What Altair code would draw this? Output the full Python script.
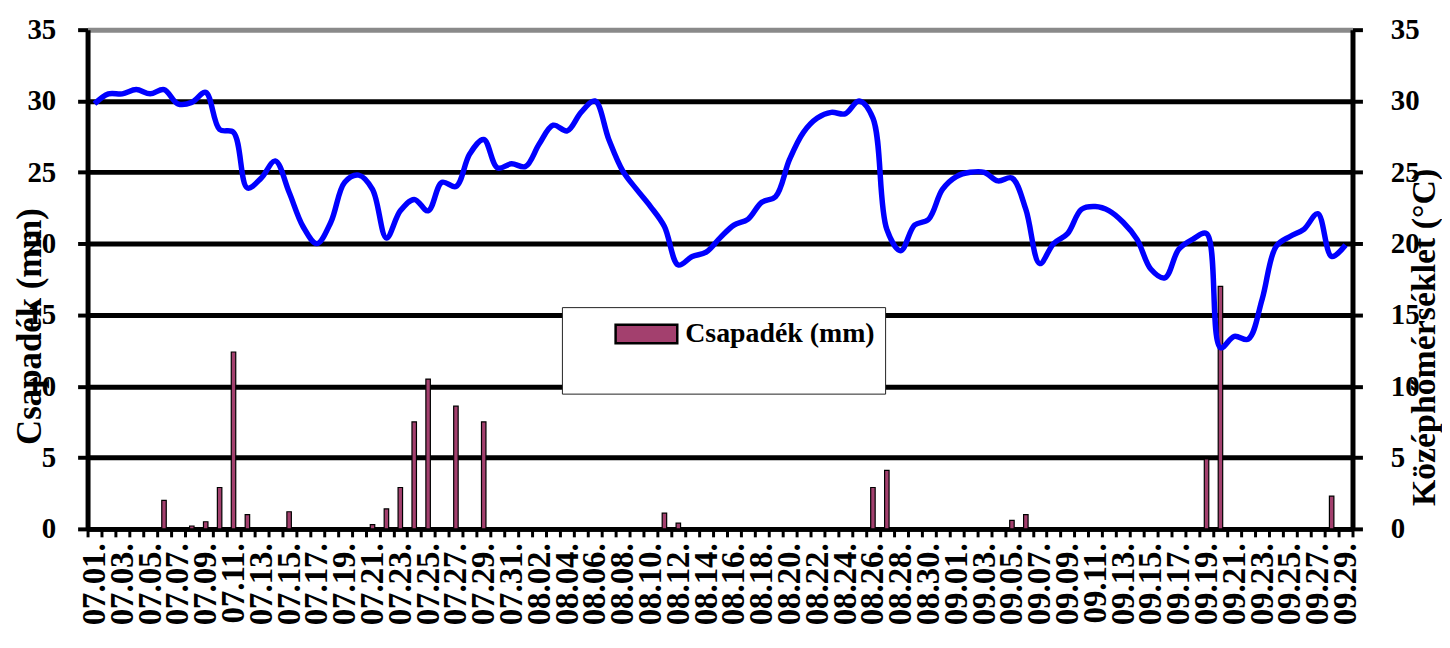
import altair as alt
import pandas as pd

FONT = "Liberation Serif"

dates = [
    "07.01.", "07.02.", "07.03.", "07.04.", "07.05.", "07.06.", "07.07.", "07.08.", "07.09.", "07.10.",
    "07.11.", "07.12.", "07.13.", "07.14.", "07.15.", "07.16.", "07.17.", "07.18.", "07.19.", "07.20.",
    "07.21.", "07.22.", "07.23.", "07.24.", "07.25.", "07.26.", "07.27.", "07.28.", "07.29.", "07.30.",
    "07.31.",
    "08.01.", "08.02.", "08.03.", "08.04.", "08.05.", "08.06.", "08.07.", "08.08.", "08.09.", "08.10.",
    "08.11.", "08.12.", "08.13.", "08.14.", "08.15.", "08.16.", "08.17.", "08.18.", "08.19.", "08.20.",
    "08.21.", "08.22.", "08.23.", "08.24.", "08.25.", "08.26.", "08.27.", "08.28.", "08.29.", "08.30.",
    "08.31.",
    "09.01.", "09.02.", "09.03.", "09.04.", "09.05.", "09.06.", "09.07.", "09.08.", "09.09.", "09.10.",
    "09.11.", "09.12.", "09.13.", "09.14.", "09.15.", "09.16.", "09.17.", "09.18.", "09.19.", "09.20.",
    "09.21.", "09.22.", "09.23.", "09.24.", "09.25.", "09.26.", "09.27.", "09.28.", "09.29.",
]

shown_labels = [
    "07.01.", "07.03.", "07.05.", "07.07.", "07.09.", "07.11.", "07.13.", "07.15.", "07.17.", "07.19.",
    "07.21.", "07.23.", "07.25.", "07.27.", "07.29.", "07.31.", "08.02.", "08.04.", "08.06.", "08.08.",
    "08.10.", "08.12.", "08.14.", "08.16.", "08.18.", "08.20.", "08.22.", "08.24.", "08.26.", "08.28.",
    "08.30.", "09.01.", "09.03.", "09.05.", "09.07.", "09.09.", "09.11.", "09.13.", "09.15.", "09.17.",
    "09.19.", "09.21.", "09.23.", "09.25.", "09.27.", "09.29.",
]

# Középhőmérséklet (°C), daily
temperature = [
    29.8, 30.5, 30.5, 30.8, 30.5, 30.8, 29.8, 29.9, 30.6, 28.0,
    27.8, 23.9, 24.6, 25.8, 23.6, 21.2, 20.0, 21.5, 24.3, 24.8,
    23.8, 20.4, 22.3, 23.1, 22.3, 24.3, 24.0, 26.3, 27.3, 25.3,
    25.6,
    25.4, 27.0, 28.3, 27.9, 29.2, 30.0, 27.3, 25.1, 23.8, 22.6,
    21.2, 18.5, 19.1, 19.4, 20.4, 21.3, 21.7, 22.9, 23.3, 25.9,
    27.8, 28.8, 29.2, 29.1, 30.0, 28.8, 21.0, 19.5, 21.3, 21.7,
    23.8,
    24.7, 25.0, 25.0, 24.4, 24.6, 22.4, 18.6, 20.0, 20.7, 22.4,
    22.6, 22.3, 21.5, 20.3, 18.2, 17.6, 19.6, 20.3, 20.7, 12.7,
    13.5, 13.3, 16.1, 19.8, 20.5, 21.0, 22.1, 19.1, 19.9,
]

# Csapadék (mm), daily
precipitation = [
    0, 0, 0, 0, 0, 2.0, 0, 0.2, 0.5, 2.9,
    12.4, 1.0, 0, 0, 1.2, 0, 0, 0, 0, 0,
    0.3, 1.4, 2.9, 7.5, 10.5, 0, 8.6, 0, 7.5, 0,
    0,
    0, 0, 0, 0, 0, 0, 0, 0, 0, 0,
    1.1, 0.4, 0, 0, 0, 0, 0, 0, 0, 0,
    0, 0, 0, 0, 0, 2.9, 4.1, 0, 0, 0,
    0,
    0, 0, 0, 0, 0.6, 1.0, 0, 0, 0, 0,
    0, 0, 0, 0, 0, 0, 0, 0, 4.9, 17.0,
    0, 0, 0, 0, 0, 0, 0, 2.3, 0,
]

y_ticks = [0, 5, 10, 15, 20, 25, 30, 35]
series_name = "Csapadék (mm)"
# wide flat swatch; drawn twice as wide as the layout slot
SWATCH = "M-2,-0.6H2V0.6H-2Z"

df = pd.DataFrame({
    "date": dates,
    "precip": precipitation,
    "temp": temperature,
    "series": [series_name] * len(dates),
})

label_expr = "indexof(" + str(shown_labels).replace("'", '"') + ", datum.value) >= 0 ? datum.value : ''"

x_enc = alt.X(
    "date:N",
    sort=dates,
    scale=alt.Scale(paddingInner=0, paddingOuter=0),
    axis=alt.Axis(
        title=None,
        labelExpr=label_expr,
        labelAngle=270,
        labelFont=FONT,
        labelFontSize=33,
        labelFontWeight="bold",
        labelColor="black",
        labelPadding=6,
        labelOverlap=False,
        tickBand="extent",
        tickSize=8,
        tickWidth=3,
        tickColor="black",
        domainColor="black",
        domainWidth=5,
        grid=False,
    ),
)

bars = alt.Chart(df).mark_bar(width=4.5, stroke="black", strokeWidth=1.2).encode(
    x=x_enc,
    y=alt.Y(
        "precip:Q",
        scale=alt.Scale(domain=[0, 35], nice=False),
        axis=alt.Axis(
            values=y_ticks,
            title="Csapadék (mm)",
            titleFont=FONT,
            titleFontSize=35,
            titleFontWeight="bold",
            titleColor="black",
            titleAngle=270,
            titleX=-58,
            titleY=298,
            titleBaseline="middle",
            titleAlign="center",
            labelFont=FONT,
            labelFontSize=29,
            labelFontWeight="bold",
            labelColor="black",
            labelPadding=22,
            tickSize=10,
            tickWidth=4,
            tickColor="black",
            domainColor="black",
            domainWidth=5,
            grid=True,
            gridColor={"condition": {"test": "datum.value == 35", "value": "#8a8a8a"}, "value": "black"},
            gridWidth=5,
        ),
    ),
    color=alt.Color(
        "series:N",
        scale=alt.Scale(domain=[series_name], range=["#A3406E"]),
        legend=alt.Legend(
            title="\u00a0",
            titleOrient="bottom",
            titleFontSize=28,
            titlePadding=8,
            orient="none",
            legendX=477,
            legendY=279,
            padding=10,
            fillColor="white",
            strokeColor="#222222",
            labelFont=FONT,
            labelFontSize=28,
            labelFontWeight="bold",
            labelColor="black",
            labelOffset=22,
            labelLimit=500,
            symbolType=SWATCH,
            symbolSize=961,
            symbolOffset=58,
            symbolStrokeColor="black",
            symbolStrokeWidth=2.5,
            symbolOpacity=1,
        ),
    ),
)

line = alt.Chart(df).mark_line(color="#0000FF", strokeWidth=5.5, interpolate="catmull-rom").encode(
    x=alt.X("date:N", sort=dates),
    y=alt.Y(
        "temp:Q",
        scale=alt.Scale(domain=[0, 35], nice=False),
        axis=alt.Axis(
            orient="right",
            values=y_ticks,
            title="Középhőmérséklet (°C)",
            titleFont=FONT,
            titleFontSize=34,
            titleFontWeight="bold",
            titleColor="black",
            titleAngle=270,
            titleX=72,
            titleY=309,
            titleBaseline="middle",
            titleAlign="center",
            labelFont=FONT,
            labelFontSize=29,
            labelFontWeight="bold",
            labelColor="black",
            labelPadding=28,
            tickSize=10,
            tickWidth=4,
            tickColor="black",
            domainColor="black",
            domainWidth=5,
            grid=False,
        ),
    ),
)

chart = alt.layer(bars, line).resolve_scale(y="independent").properties(
    width=1272,
    height=502,
    padding={"left": 80, "top": 20, "right": 90, "bottom": 118},
    autosize=alt.AutoSizeParams(type="none"),
    background="white",
).configure_view(stroke=None)

chart.save("out.html", embed_options={"renderer": "svg", "actions": False})
